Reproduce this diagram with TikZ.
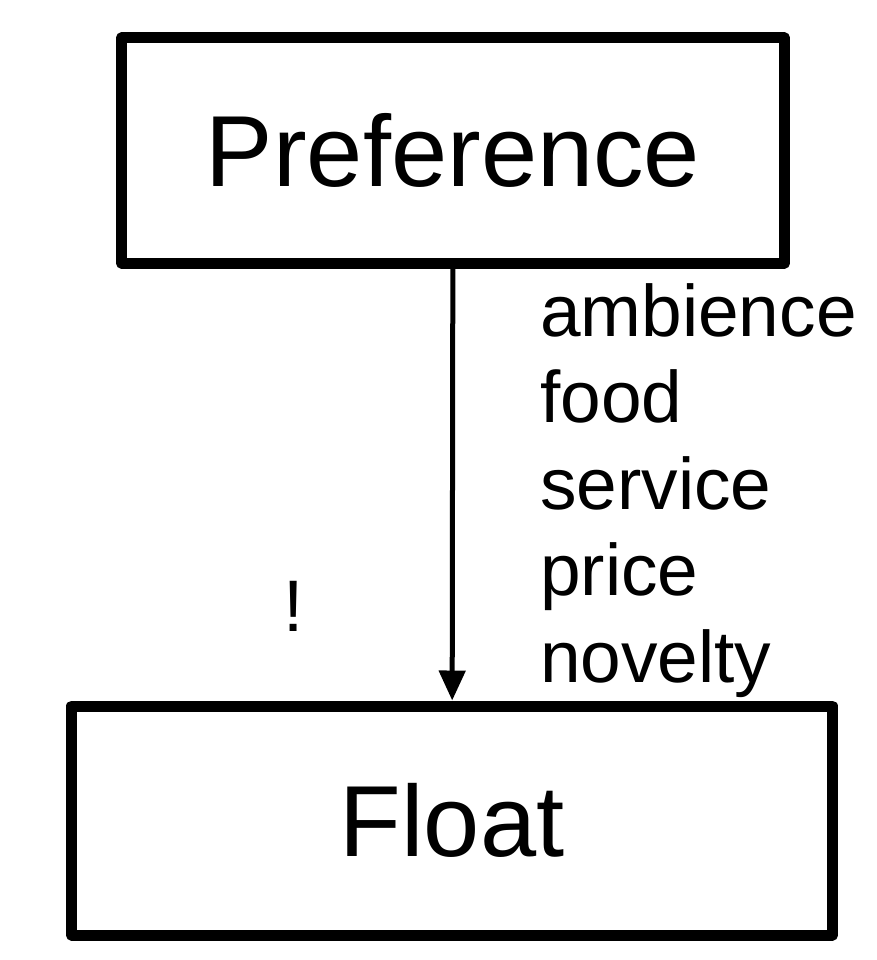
\documentclass[tikz,border=0pt]{standalone}
\usepackage{fontspec}
\setmainfont{Liberation Sans}
\usepackage{tikz}
\usetikzlibrary{arrows.meta}
\tikzstyle{box} = [rectangle, line width=11pt, line join=round, text centered, draw=black, font=\fontsize{101}{110}\selectfont]
\tikzstyle{arrow} = [line width=5pt,-{Triangle[width=26pt,length=30pt]}]
\tikzstyle{attr} = [inner sep=0pt, align=left, font=\fontsize{73}{86.5}\selectfont]

\begin{document}
\begin{tikzpicture}[x=1pt, y=-1pt]
		\useasboundingbox (0,0) rectangle (876,960);
		\node (pref) [box, minimum width=663pt, minimum height=225pt] at (453,150.5) {Preference};
		\node (float) [box, minimum width=761pt, minimum height=229pt] at (452,820.5) {Float};
		\draw [arrow] (pref) -- (float);
		\node (attrs) [attr, anchor=north west] at (540,283) {ambience\\food\\service\\price\\novelty};
		\node (bang) [attr, anchor=base] at (294,631) {!};
		\end{tikzpicture}
\end{document}
